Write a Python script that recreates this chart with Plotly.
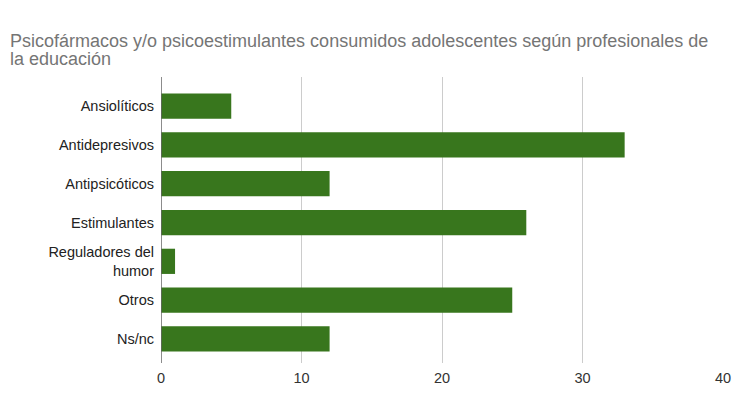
import plotly.graph_objects as go

categories = ["Ansiolíticos", "Antidepresivos", "Antipsicóticos", "Estimulantes",
              "Reguladores del<br>humor", "Otros", "Ns/nc"]
values = [5, 33, 12, 26, 1, 25, 12]
x_ticks = [0, 10, 20, 30, 40]
title_lines = ["Psicofármacos y/o psicoestimulantes consumidos adolescentes según profesionales de",
               "la educación"]

fig = go.Figure(go.Bar(
    x=values, y=categories, orientation="h",
    marker=dict(color="#38761d", line=dict(width=0)),
    width=0.65,
))

W, H = 733, 399
L, R, T, B = 161, 10, 77, 36
fig.update_layout(
    width=W, height=H,
    margin=dict(l=L, r=R, t=T, b=B, autoexpand=False),
    paper_bgcolor="white", plot_bgcolor="white",
    font=dict(family="Liberation Sans, Arial, sans-serif", color="#222"),
    showlegend=False,
    bargap=0.35,
)
for i, line in enumerate(title_lines):
    fig.add_annotation(
        text=line, xref="paper", yref="paper",
        x=-(L - 8) / (W - L - R), xanchor="left",
        y=1 + (T - (41 + 18 * i)) / (H - T - B), yanchor="middle",
        showarrow=False, font=dict(size=18, color="#757575"),
    )
fig.update_xaxes(
    range=[0, 40], tickvals=x_ticks, showgrid=True, gridcolor="#cccccc",
    gridwidth=1, zeroline=False, showline=False, automargin=False,
    tickfont=dict(size=14.5, color="#333"), ticks="", ticklabelstandoff=4,
)
fig.update_yaxes(
    categoryorder="array", categoryarray=categories,
    range=[6.62, -0.75], showgrid=False, zeroline=False, automargin=False,
    tickfont=dict(size=14.5, color="#222"), ticks="", ticklabelstandoff=6,
)
fig.add_shape(type="line", xref="x", yref="paper", x0=0, x1=0, y0=0, y1=1,
              line=dict(color="#666", width=1.5))

fig.write_html("out.html")
